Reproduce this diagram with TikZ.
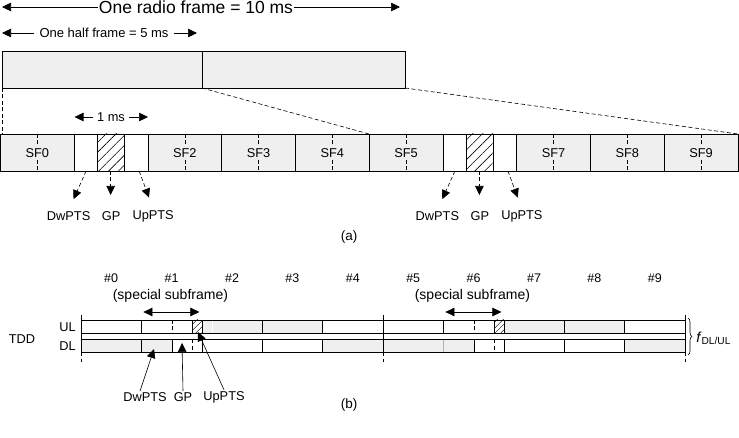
\documentclass[tikz,border=0pt]{standalone}
\usepackage{fontspec}
\setmainfont{Liberation Sans}
\usetikzlibrary{arrows.meta,patterns.meta,decorations.pathreplacing}
\definecolor{sfgray}{RGB}{239,239,239}
\tikzset{
    fr/.style={draw,line width=0.7pt},
    lbl/.style={font=\fontsize{12.8}{14}\selectfont,inner sep=1pt},
    ptr/.style={-{Triangle[length=9pt,width=8.5pt]},line width=0.6pt},
    dsh/.style={dash pattern=on 4pt off 2.5pt,line width=0.6pt},
    hatchA/.style={pattern={Lines[angle=45,distance=7pt,line width=0.6pt]}},
    hatchB/.style={pattern={Lines[angle=45,distance=4pt,line width=0.6pt]}}
}
\begin{document}
\begin{tikzpicture}[x=1pt,y=-1pt,line width=0.7pt]
    \useasboundingbox (0,0) rectangle (739,438);
    % (a) frame arrows
    \node[font=\fontsize{17.5}{20}\selectfont,inner sep=0.5pt] (frm) at (196,7) {One radio frame = 10 ms};
    \coordinate (frmL) at (2,7);
    \coordinate (frmR) at (400,7);
    \draw[ptr] (frm.west) -- (frmL);
    \draw[ptr] (frm.east) -- (frmR);
    \node[font=\fontsize{13}{15}\selectfont,inner xsep=5pt] (half) at (104,33) {One half frame = 5 ms};
    \coordinate (halfL) at (2,33);
    \coordinate (halfR) at (197,33);
    \draw[ptr] (half.west) -- (halfL);
    \draw[ptr] (half.east) -- (halfR);
    \draw[fr,fill=sfgray] (2,51) rectangle (405,88);
    \draw[fr] (202,51) -- (202,88);
    \draw[dsh] (2,88) -- (2,134);
    \draw[dsh] (202,88) -- (369,134);
    \draw[dsh] (405,88) -- (738,134);
    % (a) subframes
    \foreach \i/\lab in {0/SF0,2/SF2,3/SF3,4/SF4,5/SF5,7/SF7,8/SF8,9/SF9} {
        \pgfmathsetmacro{\xa}{0.4+\i*73.75}
        \pgfmathsetmacro{\xm}{\xa+36.9}
        \draw[fr,fill=sfgray] (\xa,134) rectangle ++(73.75,37);
        \draw[dsh] (\xm,134) -- (\xm,171);
        \node[lbl,fill=sfgray] (sf\i) at (\xm,153) {\lab};
    }
    \foreach \s in {1,6} {
        \pgfmathsetmacro{\xa}{0.4+\s*73.75}
        \draw[fr,fill=white] (\xa,134) rectangle ++(23.5,37);
        \draw[fr,hatchA] ({\xa+23.5},134) rectangle ++(27,37);
        \draw[fr,fill=white] ({\xa+50.5},134) rectangle ({\xa+73.75},171);
        \node[lbl] (dw\s) at ({\xa-5.5},216) {DwPTS};
        \node[lbl] (gp\s) at ({\xa+37},216) {GP};
        \node[lbl] (up\s) at ({\xa+79},216) {UpPTS};
        \draw[ptr,dsh,shorten >=12pt] ({\xa+12},171) -- (dw\s.north);
        \draw[ptr,dsh,shorten >=12pt] ({\xa+36.5},171) -- ({\xa+36.5},207);
        \draw[ptr,dsh,shorten >=12pt] ({\xa+65},171) -- (up\s.north);
    }
    \node[lbl,inner xsep=4pt] (ms) at (111,117) {1 ms};
    \coordinate (msL) at (74.5,117);
    \coordinate (msR) at (148,117);
    \draw[ptr] (ms.west) -- (msL);
    \draw[ptr] (ms.east) -- (msR);
    \node[lbl,font=\fontsize{13.5}{15}\selectfont] (capa) at (349,237) {(a)};
    % (b) UL and DL
    \foreach \i/\cu/\cd in {0/white/sfgray,1/white/white,2/sfgray/white,3/sfgray/white,4/white/sfgray,
                            5/white/sfgray,6/white/white,7/sfgray/white,8/sfgray/white,9/white/sfgray} {
        \pgfmathsetmacro{\xa}{81+\i*60.4}
        \draw[fr,line width=0.6pt,fill=\cu] (\xa,320) rectangle ++(60.4,13.3);
        \draw[fr,line width=0.6pt,fill=\cd] (\xa,339.3) rectangle ++(60.4,13);
        \node[lbl,font=\fontsize{12.5}{14}\selectfont] (n\i) at ({\xa+30.2},278) {\#\i};
    }
    \foreach \s in {1,6} {
        \pgfmathsetmacro{\xa}{81+\s*60.4}
        \fill[sfgray] (\xa,339.3) rectangle ++(31,13);
        \draw[fr,line width=0.6pt] (\xa,339.3) rectangle ++(60.4,13);
        \draw[line width=0.6pt] ({\xa+31},339.3) -- ++(0,13);
        \draw[dsh] ({\xa+51},339.3) -- ++(0,13);
        \draw[dsh] ({\xa+31},320) -- ++(0,13.3);
        \draw[fr,line width=0.6pt,hatchB] ({\xa+51},320) rectangle ({\xa+60.4},333.3);
        \node[lbl,font=\fontsize{14}{16}\selectfont] (sp\s) at ({\xa+29},296) {(special subframe)};
        \draw[{Triangle[length=9pt,width=8.5pt]}-{Triangle[length=9pt,width=8.5pt]},line width=0.6pt]
            ({\xa+2},312) -- ({\xa+58},312);
    }
    \draw[white,line width=0.6pt] (212,320.6) -- (212,332.7);
    \draw[gray!60,line width=0.9pt] (443,339.7) -- (443,351.9);
    \foreach \x in {81,383,685} {
        \draw[line width=0.6pt] (\x,315) -- (\x,352);
        \draw[dsh] (\x,352) -- (\x,362);
    }
    \node[lbl,anchor=east] (ul) at (77,327) {UL};
    \node[lbl,anchor=east] (dl) at (77,346) {DL};
    \node[lbl] (tdd) at (22,339) {TDD};
    \draw[line width=0.6pt,decorate,decoration={brace,amplitude=4pt}] (688,318) -- (688,355);
    \node[lbl,anchor=west,font=\fontsize{14.5}{16}\selectfont] (fdl) at (695,338) {\textit{f}\textsubscript{DL/UL}};
    % (b) pointers
    \node[lbl] (dwb) at (145,397) {DwPTS};
    \node[lbl] (gpb) at (183,397) {GP};
    \node[lbl] (upb) at (224,397) {UpPTS};
    \coordinate (dwt) at (154,349);
    \coordinate (gpt) at (182,343);
    \coordinate (upt) at (198,332);
    \draw[ptr] ([xshift=-5pt]dwb.north) -- (dwt);
    \draw[ptr] (gpb.north) -- (gpt);
    \draw[ptr] (upb.north) -- (upt);
    \node[lbl,font=\fontsize{13.5}{15}\selectfont] (capb) at (349,405) {(b)};
\end{tikzpicture}
\end{document}
